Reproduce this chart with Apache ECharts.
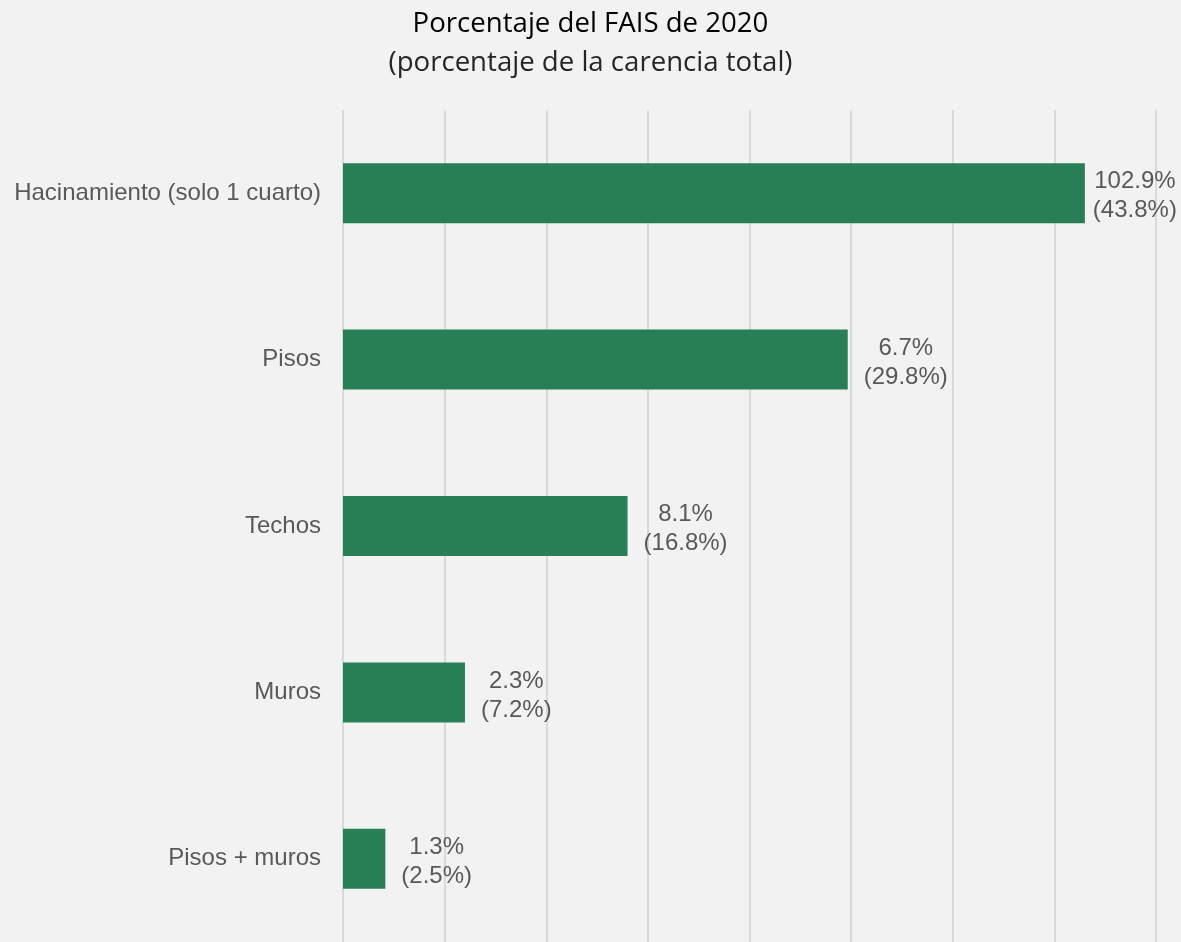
<!DOCTYPE html>
<html>
<head>
<meta charset="utf-8">
<script src="https://cdn.jsdelivr.net/npm/echarts@6/dist/echarts.min.js"></script>
<style>
html,body{margin:0;padding:0;background:#f2f2f2;}
#chart{width:1181px;height:942px;}
</style>
</head>
<body>
<div id="chart"></div>
<script>
var categories = ['Hacinamiento (solo 1 cuarto)', 'Pisos', 'Techos', 'Muros', 'Pisos + muros'];
var shareOfTotal = [43.8, 29.8, 16.8, 7.2, 2.5];
var faisPercent = ['102.9%', '6.7%', '8.1%', '2.3%', '1.3%'];
var xTicks = [0, 6, 12, 18, 24, 30, 36, 42, 48];

var seriesData = shareOfTotal.map(function (v, i) {
  var item = {value: v};
  if (i === 0) item.label = {distance: 8};
  return item;
});

var chart = echarts.init(document.getElementById('chart'));
chart.setOption({
  backgroundColor: '#f2f2f2',
  animation: false,
  title: [
    {text: 'Porcentaje del FAIS de 2020', left: 'center', top: 1,
     textStyle: {fontFamily: 'Open Sans', fontSize: 27.6, fontWeight: 'normal', color: '#000', lineHeight: 36}},
    {text: '(porcentaje de la carencia total)', left: 'center', top: 40,
     textStyle: {fontFamily: 'Open Sans', fontSize: 27.6, fontWeight: 'normal', color: '#262626', lineHeight: 36}}
  ],
  grid: {left: 343, top: 110, width: 813, height: 836, containLabel: false},
  xAxis: {
    type: 'value', min: xTicks[0], max: xTicks[xTicks.length - 1], interval: 6,
    axisLabel: {show: false}, axisLine: {show: false}, axisTick: {show: false},
    splitLine: {show: true, lineStyle: {color: '#d9d9d9', width: 2}}
  },
  yAxis: {
    type: 'category', data: categories, inverse: true,
    axisLine: {show: false}, axisTick: {show: false},
    axisLabel: {margin: 22, fontFamily: 'Liberation Sans', fontSize: 24, color: '#595959'}
  },
  series: [{
    type: 'bar', data: seriesData, barWidth: 60,
    itemStyle: {color: '#287e55'},
    label: {
      show: true, position: 'right', distance: 16, offset: [0, 3],
      formatter: function (p) {
        return '{a|' + faisPercent[p.dataIndex] + '}\n{a|(' + p.value.toFixed(1) + '%)}';
      },
      rich: {a: {align: 'center', fontFamily: 'Liberation Sans', fontSize: 24, color: '#595959', lineHeight: 29}}
    }
  }]
});
</script>
</body>
</html>
